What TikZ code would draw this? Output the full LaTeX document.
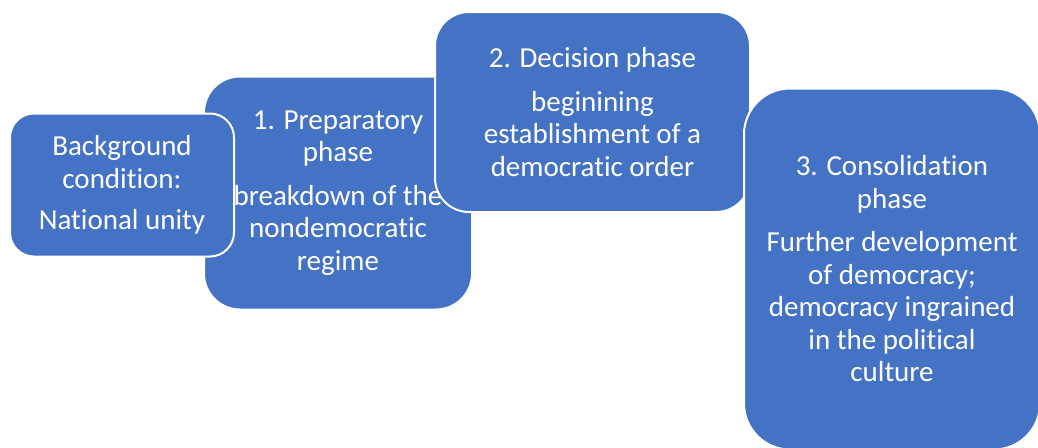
\documentclass[tikz,border=0pt]{standalone}
\usepackage{fontspec}
\setmainfont{Carlito}[Ligatures=NoCommon, RawFeature=-liga]
\definecolor{phaseblue}{HTML}{4472C4}
\begin{document}
\begin{tikzpicture}[x=1pt,y=-1pt,
  phasebox/.style={draw=white, line width=2pt, fill=phaseblue, text=white,
    align=center, inner sep=0pt, font=\fontsize{29}{32.5}\selectfont},
]
\useasboundingbox (0,0) rectangle (1038,447);
\clip (0,0) rectangle (1038,447);
% phase 1 lies underneath its neighbours
\node[phasebox, minimum width=268pt, minimum height=233pt, rounded corners=36pt] (prep) at (338,193)
  {1. Preparatory\\phase\\[11pt]breakdown of the\\nondemocratic\\regime};
\node[phasebox, minimum width=224pt, minimum height=143pt, rounded corners=24pt] (background) at (122,185)
  {Background\\condition:\\[9pt]National unity};
\node[phasebox, minimum width=315pt, minimum height=200pt, rounded corners=34pt] (decision) at (592.5,112)
  {2. Decision phase\\[11pt]beginining\\establishment of a\\democratic order};
\node[phasebox, minimum width=296pt, minimum height=361pt, rounded corners=46pt] (consol) at (892,269)
  {3. Consolidation\\phase\\[11pt]Further development\\of democracy;\\democracy ingrained\\in the political\\culture};
\end{tikzpicture}
\end{document}
